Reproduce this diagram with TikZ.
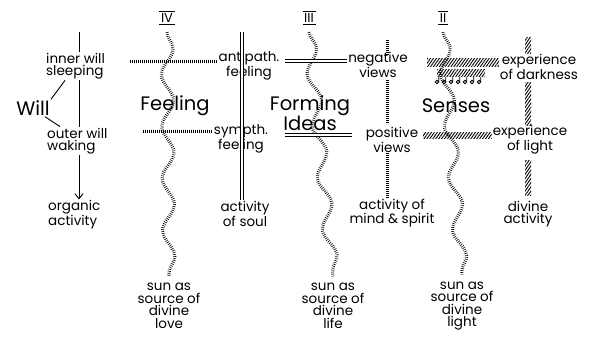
\documentclass[tikz,border=0pt]{standalone}
\usepackage{fontspec}
\setmainfont{Poppins}
\usetikzlibrary{arrows.meta,decorations.pathmorphing,patterns.meta}

\begin{document}
\begin{tikzpicture}[x=1pt,y=-1pt,
 lbl/.style={font=\fontsize{13.5}{12.5}\selectfont,align=center,inner sep=1pt},
 big/.style={font=\fontsize{19.5}{19}\selectfont,inner sep=1pt},
 num/.style={font=\fontsize{13}{13}\selectfont,inner sep=1.5pt},
 wave/.style={line width=3.2pt,dash pattern=on .6pt off 1.4pt,decorate,decoration={snake,amplitude=6pt,segment length=52pt}},
 ticks/.style={line width=3pt,dash pattern=on .7pt off 1.3pt},
 twin/.style={draw=black,double=white,double distance=1.8pt,line width=.8pt},
 hatch/.style={pattern={Lines[angle=55,distance=2.4pt,line width=.9pt]}}]
\useasboundingbox (0,0) rectangle (607,351);
% will
\node[big] (will) at (33,108) {Will};
\node[lbl,align=left,anchor=west] (inner) at (45,66) {inner will\\sleeping};
\node[lbl,align=left,anchor=west] (outer) at (46,141) {outer will\\waking};
\node[lbl,align=left,anchor=west] (organic) at (47,215) {organic\\activity};
\coordinate (wtop) at (79,32);
\draw[line width=.9pt] (wtop)--(inner.north -| wtop) (inner.south -| wtop)--(outer.north -| wtop);
\draw[line width=.9pt,-{Straight Barb[length=5pt,width=8pt]}] (outer.south -| wtop)--(organic.north -| wtop);
\draw[line width=.9pt] (will.north east)--([xshift=20pt]inner.south west) ([xshift=-6pt]will.south east)--([xshift=14pt]outer.north west);
% roman numbers and waves
\foreach \n/\t/\x/\s/\w in {4/IV/167/169/love,3/III/309/333/life,2/II/443/462/light}{
\node[num] (r\n) at (\x,18) {\t};\draw[line width=.9pt] (r\n.north west)--(r\n.north east) (r\n.south west)--(r\n.south east);
\node[lbl] (sun\n) at (\s,306) {sun as\\source of\\divine\\\w};
\draw[wave] ([yshift=-8pt]r\n.south)--([yshift=6pt]sun\n.north);}
% feeling
\node[big] (feel) at (175,106) {Feeling};
\node[lbl] (anti) at (249,66) {antipath.\\feeling};
\node[lbl] (symp) at (241,139) {sympth.\\feeling};
\node[lbl] (soul) at (245,214) {activity\\of soul};
\coordinate (ftop) at (242,32);
\draw[ticks] (130,61)--(anti.west |- 0,61) (143,131)--(symp.west |- 0,131);
\draw[twin] (ftop)--(soul.north -| ftop);
% forming ideas
\node[big,align=center] (form) at (310,113) {Forming\\[-1pt]Ideas};
\node[lbl] (neg) at (378,65) {negative\\views};
\node[lbl] (pos) at (392,140) {positive\\views};
\node[lbl] (mind) at (392,213) {activity of\\mind \& spirit};
\coordinate (m3) at (285,61);\coordinate (n3) at (285,135);
\draw[twin] (m3)--(neg.west |- m3);
\draw[twin] (n3)--(352,135);
\draw[ticks] (387,40)--(387,55) (387,80)--(387,124) (387,153)--(mind.north -| 387,0);
% senses
\node[big] (sens) at (456,106) {Senses};
\node[lbl] (dark) at (539,67) {experience\\of darkness};
\node[lbl] (light) at (530,140) {experience\\of light};
\node[lbl] (div) at (528,214) {divine\\activity};
\fill[hatch] (427,58) rectangle (dark.west |- 0,66);
\fill[hatch] (437,69) rectangle (485,76);
\foreach \x in {437,444,...,484}{\draw[line width=.8pt] (\x,82) circle (1.8) ++(1.8,0)--++(0,-5);}
\fill[hatch] (423,132) rectangle (light.west |- 0,138);
\foreach \a/\b in {37/53,82/125,160/195}{\fill[hatch] (525,\a) rectangle (531,\b);}
\end{tikzpicture}
\end{document}
